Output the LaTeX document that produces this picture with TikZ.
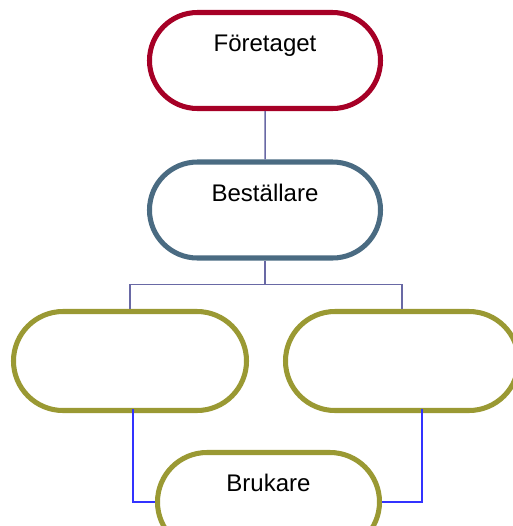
\documentclass[tikz,border=0pt]{standalone}
\usepackage{fontspec}
\setmainfont{Liberation Sans}
\usetikzlibrary{shapes.misc}

\definecolor{boxred}{RGB}{166,0,38}
\definecolor{boxslate}{RGB}{74,107,130}
\definecolor{boxolive}{RGB}{154,153,51}
\definecolor{linkpurple}{RGB}{105,105,165}
\definecolor{linkblue}{RGB}{51,51,255}

\tikzset{
  rbox/.style={rounded rectangle, draw, line width=4.3pt, fill=white,
    inner sep=0pt, text height=0.54cm, text depth=1.08cm,
    minimum width=6.93cm, minimum height=2.88cm,
    font=\fontsize{20.5}{24}\selectfont},
  tree/.style={draw=linkpurple, line width=1.3pt},
  user/.style={draw=linkblue, line width=1.7pt}
}

\begin{document}
\begin{tikzpicture}[x=0.03cm, y=-0.03cm]
    % Frame
    \useasboundingbox (0,0) rectangle (513,526);
    \clip (0,0) rectangle (513,526);

    % Boxes
    \node[rbox, draw=boxred] (foretaget) at (265,60.5) {Företaget};
    \node[rbox, draw=boxslate] (bestallare) at (265,210) {Beställare};
    \node[rbox, draw=boxolive, minimum width=6.99cm, minimum height=2.97cm] (left) at (130,361) {};
    \node[rbox, draw=boxolive, minimum width=6.99cm, minimum height=2.97cm] (right) at (402,361) {};
    \node[rbox, draw=boxolive, minimum width=6.66cm, minimum height=2.97cm,
      text depth=1.2cm] (brukare) at (268.5,502) {Brukare};

    % Tree links
    \draw[tree] (foretaget) -- (bestallare);
    \draw[tree] (bestallare.south) -- ++(0,24) coordinate (fork) -| (left.north);
    \draw[tree] (fork) -| (right.north);

    % Blue links to Brukare
    \draw[user] ([xshift=0.09cm, yshift=0.12cm]left.south) |- (brukare.west);
    \draw[user] ([xshift=0.6cm, yshift=0.12cm]right.south) |- (brukare.east);
\end{tikzpicture}
\end{document}
